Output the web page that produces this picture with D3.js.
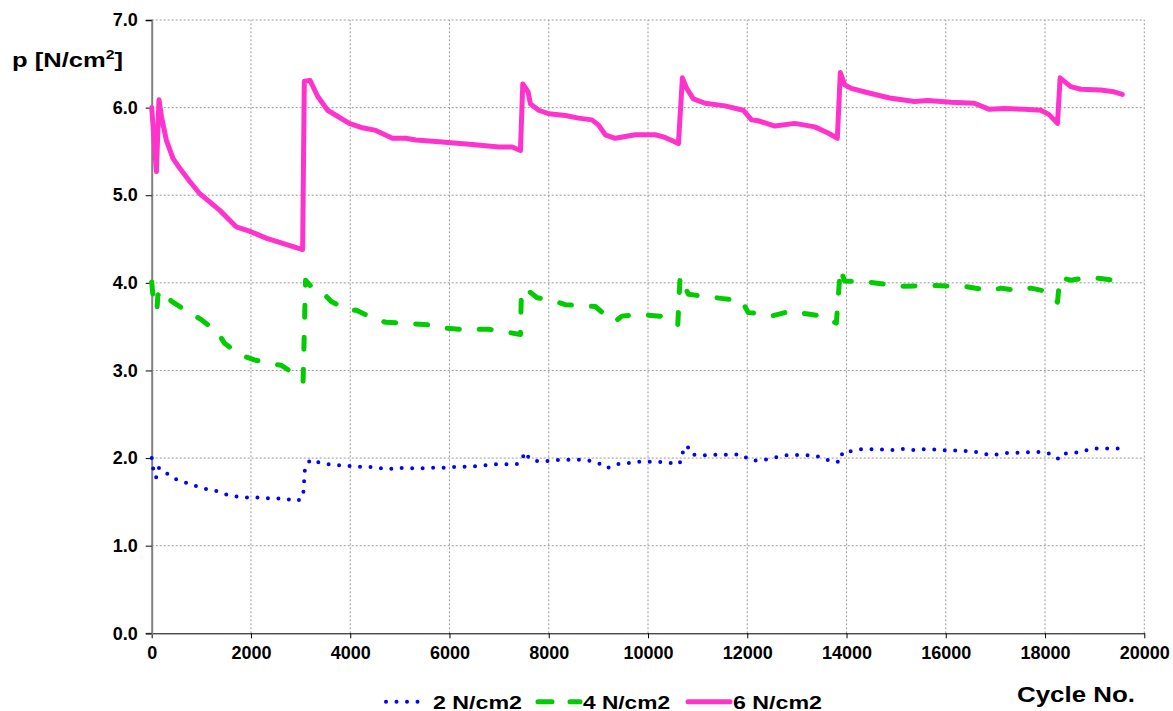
<!DOCTYPE html>
<html><head><meta charset="utf-8">
<script src="https://cdn.jsdelivr.net/npm/d3@7"></script>
<style>body{margin:0;background:#fff}text{font-family:"Liberation Sans",Arial,sans-serif;font-weight:bold}</style>
</head><body><svg id="c" width="1173" height="711"></svg>
<script>
const xTicks=[0,2000,4000,6000,8000,10000,12000,14000,16000,18000,20000];
const yTicks=[0,1,2,3,4,5,6,7];
const seriesNames=["2 N/cm2","4 N/cm2","6 N/cm2"];
const cyc2=[0,27,60,107,147,215,376,563,750,938,1139,1334,1528,1722,1923,2124,2325,2526,2727,2928,3049,3089,3129,3196,3363,3558,3759,3960,4161,4356,4557,4758,4952,5153,5360,5562,5755,5956,6157,6358,6559,6754,6955,7156,7351,7464,7511,7632,7819,8020,8221,8422,8623,8817,9011,9179,9367,9568,9763,10021,10226,10425,10623,10685,10712,10788,10890,11089,11288,11486,11692,11890,12041,12144,12329,12521,12719,12918,13123,13322,13514,13699,13877,13918,14103,14295,14500,14699,14897,15103,15301,15507,15705,15911,16110,16308,16514,16705,16904,17103,17301,17500,17705,17911,18096,18274,18363,18541,18740,18925,19123,19322,19521];
const p2=[2.00,1.89,1.78,1.78,1.89,1.87,1.79,1.74,1.71,1.67,1.64,1.62,1.58,1.56,1.55,1.55,1.54,1.54,1.53,1.51,1.55,1.89,1.92,1.98,1.95,1.93,1.92,1.91,1.90,1.90,1.89,1.87,1.89,1.885,1.88,1.89,1.89,1.89,1.90,1.90,1.91,1.92,1.93,1.93,1.93,1.98,2.07,1.98,1.96,1.97,1.98,1.98,1.98,1.97,1.94,1.885,1.93,1.94,1.96,1.957,1.957,1.946,1.93,1.99,2.11,2.14,2.04,2.03,2.04,2.035,2.04,2.04,1.98,1.97,1.98,2.00,2.03,2.035,2.035,2.03,2.01,1.957,1.957,2.07,2.08,2.10,2.10,2.10,2.09,2.105,2.09,2.10,2.10,2.09,2.09,2.08,2.08,2.06,2.03,2.05,2.06,2.06,2.07,2.07,2.05,1.99,2.05,2.06,2.07,2.11,2.11,2.11,2.11];
const cyc4=[0,30,105,125,214,395,764,999,1334,1468,1769,2070,2439,2606,2908,3050,3100,3209,3511,3612,3980,4114,4516,4717,5118,5588,5789,6191,6392,6794,7028,7430,7450,7564,7765,8067,8336,8670,8938,9206,9340,9474,9809,10245,10600,10647,10814,11216,11517,11885,12020,12254,12489,12891,13159,13528,13795,13875,13963,14432,15102,15705,16375,16911,17112,17447,17715,18050,18251,18298,18519,18854,19121,19523];
const p4=[4.01,3.83,3.69,3.86,3.92,3.79,3.66,3.58,3.43,3.31,3.18,3.12,3.07,3.06,2.95,2.87,4.03,3.96,3.85,3.79,3.68,3.69,3.58,3.55,3.54,3.52,3.49,3.47,3.47,3.47,3.45,3.41,3.92,3.92,3.83,3.80,3.75,3.74,3.73,3.60,3.56,3.62,3.64,3.62,3.52,4.07,3.87,3.84,3.82,3.80,3.66,3.65,3.62,3.68,3.65,3.62,3.54,4.16,4.02,4.01,3.96,3.97,3.96,3.91,3.94,3.91,3.94,3.90,3.78,4.06,4.03,4.06,4.05,4.02];
const cyc6=[0,95,147,195,295,428,563,764,965,1367,1702,1970,2305,2640,3041,3075,3190,3343,3544,3980,4247,4516,4850,5118,5320,5790,6458,6995,7263,7430,7477,7584,7632,7799,8000,8336,8603,8870,9005,9139,9340,9742,10144,10345,10613,10693,10780,10914,11149,11551,11919,12086,12221,12556,12958,13360,13628,13815,13875,13963,14097,14432,14868,15370,15638,16107,16576,16878,17180,17581,17916,18083,18251,18304,18518,18719,19121,19389,19557];
const p6=[6.0,5.27,6.09,5.9,5.63,5.42,5.31,5.16,5.02,4.83,4.64,4.59,4.51,4.45,4.38,6.30,6.31,6.13,5.97,5.82,5.77,5.74,5.65,5.65,5.63,5.61,5.58,5.55,5.55,5.51,6.27,6.18,6.04,5.97,5.93,5.91,5.88,5.86,5.80,5.69,5.65,5.69,5.69,5.66,5.59,6.34,6.22,6.10,6.05,6.02,5.97,5.86,5.85,5.79,5.82,5.78,5.71,5.65,6.40,6.26,6.22,6.17,6.11,6.07,6.08,6.06,6.05,5.98,5.99,5.98,5.97,5.92,5.82,6.34,6.24,6.21,6.20,6.18,6.15];

const svg=d3.select("#c");
const x=d3.scaleLinear().domain([0,20000]).range([151.7,1144.3]);
const y=d3.scaleLinear().domain([0,7]).range([633.3,20]);

// gridlines
svg.append("g").selectAll("line").data(yTicks.filter(d=>d>0)).join("line")
 .attr("x1",x(0)).attr("x2",x(20000)).attr("y1",d=>y(d)).attr("y2",d=>y(d))
 .attr("stroke","#999").attr("stroke-width",1).attr("stroke-dasharray","2,2");
svg.append("g").selectAll("line").data(xTicks.filter(d=>d>0)).join("line")
 .attr("x1",d=>x(d)).attr("x2",d=>x(d)).attr("y1",y(0)).attr("y2",y(7))
 .attr("stroke","#999").attr("stroke-width",1).attr("stroke-dasharray","2,2");

// axes
const yAxis=svg.append("g").attr("transform",`translate(${x(0)},0)`)
 .call(d3.axisLeft(y).tickValues(yTicks).tickFormat(d3.format(".1f")).tickSize(6).tickPadding(8));
yAxis.select(".domain").attr("stroke","#808080").attr("stroke-width",2);
yAxis.selectAll(".tick line").attr("stroke","#000");
yAxis.selectAll("text").attr("font-size",18).attr("fill","#000").attr("font-family","Liberation Sans, Arial").attr("font-weight","bold");
const xAxis=svg.append("g").attr("transform",`translate(0,${y(0)})`)
 .call(d3.axisBottom(x).tickValues(xTicks).tickFormat(d3.format("d")).tickSizeInner(5).tickSizeOuter(0).tickPadding(8));
xAxis.select(".domain").attr("stroke","#000").attr("stroke-width",1);
xAxis.selectAll("text").attr("font-size",18).attr("fill","#000").attr("font-family","Liberation Sans, Arial").attr("font-weight","bold");
yAxis.raise();

const line=d3.line().x(d=>x(d[0])).y(d=>y(d[1]));
const s2=cyc2.map((c,i)=>[c,p2[i]]);
const s4=cyc4.map((c,i)=>[c,p4[i]]);
const s6=cyc6.map((c,i)=>[c,p6[i]]);
const styles=[
 {data:s2,color:"#0000FF",w:4,dash:"0,10.5"},
 {data:s4,color:"#00CC00",w:5,dash:"12,20"},
 {data:s6,color:"#FF33CC",w:5,dash:null}];
styles.forEach(s=>{
 svg.append("path").datum(s.data).attr("d",line).attr("fill","none")
  .attr("stroke",s.color).attr("stroke-width",s.w).attr("stroke-linecap","round")
  .attr("stroke-linejoin","round").attr("stroke-dasharray",s.dash);
});

// titles
const yt=svg.append("text").attr("x",12).attr("y",67).attr("font-size",21).attr("textLength",111).attr("lengthAdjust","spacingAndGlyphs");
yt.append("tspan").text("p [N/cm");
yt.append("tspan").attr("font-size",13).attr("dy",-8).text("2");
yt.append("tspan").attr("dy",8).text("]");
svg.append("text").attr("x",1017).attr("y",701.5).attr("font-size",22).attr("textLength",118).attr("lengthAdjust","spacingAndGlyphs").text("Cycle No.");

// legend
const leg=[{x1:386,x2:428,tx:433,tw:89},{x1:538,x2:580,tx:583,tw:87},{x1:688,x2:730,tx:733,tw:89}];
leg.forEach((l,i)=>{
 const s=styles[i];
 svg.append("line").attr("x1",l.x1).attr("x2",l.x2).attr("y1",701.7).attr("y2",701.7)
  .attr("stroke",s.color).attr("stroke-width",s.w).attr("stroke-linecap","round")
  .attr("stroke-dasharray",i==1?"14,18":s.dash);
 svg.append("text").attr("x",l.tx).attr("y",708.5).attr("font-size",19).attr("textLength",l.tw).attr("lengthAdjust","spacingAndGlyphs").text(seriesNames[i]);
});
</script></body></html>
